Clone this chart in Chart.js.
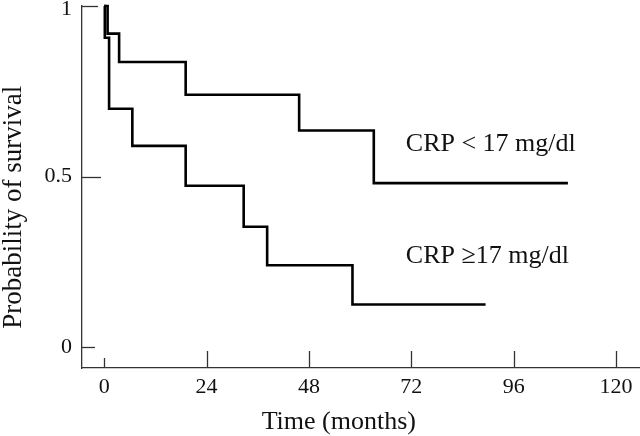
<!DOCTYPE html>
<html>
<head>
<meta charset="utf-8">
<script src="https://cdn.jsdelivr.net/npm/chart.js@4.4.1/dist/chart.umd.min.js"></script>
<style>
  html, body { margin: 0; padding: 0; background: #fff; }
  #wrap { width: 640px; height: 436px; }
</style>
</head>
<body>
<div id="wrap"><canvas id="km"></canvas></div>
<script>
// Kaplan-Meier steps (months, probability)
var lowCrpTimes = [0, 0.8, 3.5, 19.1, 45.7, 63.2, 108.7];
var lowCrpSurv = [1, 0.919, 0.836, 0.740, 0.635, 0.481, 0.481];
var highCrpTimes = [0, 0.15, 1.15, 6.6, 19.1, 32.7, 38.2, 58.2, 89.4];
var highCrpSurv = [1, 0.907, 0.699, 0.590, 0.473, 0.353, 0.240, 0.125, 0.125];

var xTicks = [0, 24, 48, 72, 96, 120];
var yTicks = [0, 0.5, 1];
var yTickLabels = ['0', '0.5', '1'];
var seriesNames = ['CRP < 17 mg/dl', 'CRP \u226517 mg/dl'];
var xTitle = 'Time (months)';
var yTitle = 'Probability of survival';

var serif = "'Liberation Serif', 'Times New Roman', serif";
var ink = '#111';

function toPoints(times, surv) {
    var pts = [];
    for (var i = 0; i < times.length; i++) {
        pts.push({ x: times[i], y: surv[i] });
    }
    return pts;
}

// inward tick marks, axis titles and the curve labels
var decor = {
    id: 'decor',
    afterDraw: function (chart) {
        var ctx = chart.ctx;
        var xs = chart.scales.x;
        var ys = chart.scales.y;
        var area = chart.chartArea;
        ctx.save();
        ctx.strokeStyle = '#333';
        ctx.lineWidth = 1.3;
        xTicks.forEach(function (v) {
            var px = Math.round(xs.getPixelForValue(v)) + 0.5;
            var len = v === 0 ? 10 : 17;
            ctx.beginPath();
            ctx.moveTo(px, area.bottom);
            ctx.lineTo(px, area.bottom - len);
            ctx.stroke();
        });
        yTicks.forEach(function (v) {
            var py = Math.round(ys.getPixelForValue(v)) + 0.5;
            var len = v === 0 ? 13 : (v === 1 ? 16 : 19);
            ctx.beginPath();
            ctx.moveTo(area.left, py);
            ctx.lineTo(area.left + len, py);
            ctx.stroke();
        });

        ctx.fillStyle = ink;
        ctx.font = '26px ' + serif;
        ctx.textBaseline = 'alphabetic';
        ctx.textAlign = 'left';
        ctx.fillText(seriesNames[0], xs.getPixelForValue(70.7), ys.getPixelForValue(0.574));
        ctx.fillText(seriesNames[1], xs.getPixelForValue(70.7), ys.getPixelForValue(0.247));

        ctx.textAlign = 'center';
        ctx.fillText(xTitle, xs.getPixelForValue(55), 429);

        ctx.font = '27px ' + serif;
        ctx.translate(21, ys.getPixelForValue(0.41));
        ctx.rotate(-Math.PI / 2);
        ctx.fillText(yTitle, 0, 0);
        ctx.restore();
    }
};

new Chart(document.getElementById('km'), {
    type: 'scatter',
    data: {
        datasets: [
            {
                label: seriesNames[0],
                data: toPoints(lowCrpTimes, lowCrpSurv),
                showLine: true,
                stepped: 'before',
                borderColor: '#000',
                borderWidth: 2.6,
                pointRadius: 0,
                clip: 6
            },
            {
                label: seriesNames[1],
                data: toPoints(highCrpTimes, highCrpSurv),
                showLine: true,
                stepped: 'before',
                borderColor: '#000',
                borderWidth: 2.6,
                pointRadius: 0,
                clip: 6
            }
        ]
    },
    options: {
        responsive: true,
        maintainAspectRatio: false,
        animation: false,
        layout: { padding: { top: 6, right: 0, left: 0, bottom: 0 } },
        plugins: {
            legend: { display: false },
            tooltip: { enabled: false }
        },
        scales: {
            x: {
                type: 'linear',
                min: -5.2,
                max: 125.6,
                grid: { display: false, drawTicks: false },
                border: { display: true, color: '#333', width: 1.3 },
                ticks: {
                    padding: 6,
                    color: ink,
                    font: { family: serif, size: 22 },
                    maxRotation: 0
                },
                afterBuildTicks: function (s) {
                    s.ticks = xTicks.map(function (v) { return { value: v }; });
                },
                afterFit: function (s) {
                    s.height = 68;
                    s.paddingLeft = 0;
                    s.paddingRight = 0;
                }
            },
            y: {
                min: -0.061,
                max: 1.0,
                grid: { display: false, drawTicks: false },
                border: { display: true, color: '#333', width: 1.3 },
                ticks: {
                    padding: 10,
                    color: ink,
                    // the top label sits a little below its tick so it is not cut off
                    font: function (c) {
                        var top = c.tick && c.tick.value === 1;
                        return { family: serif, size: 22, lineHeight: top ? 0.27 : 1.2 };
                    },
                    callback: function (v) {
                        var i = yTicks.indexOf(v);
                        if (i < 0) return '';
                        return v === 1 ? ['', yTickLabels[i]] : yTickLabels[i];
                    }
                },
                afterBuildTicks: function (s) {
                    s.ticks = yTicks.map(function (v) { return { value: v }; });
                },
                afterFit: function (s) {
                    s.width = 82;
                    s.paddingTop = 0;
                    s.paddingBottom = 0;
                }
            }
        }
    },
    plugins: [decor]
});
</script>
</body>
</html>
